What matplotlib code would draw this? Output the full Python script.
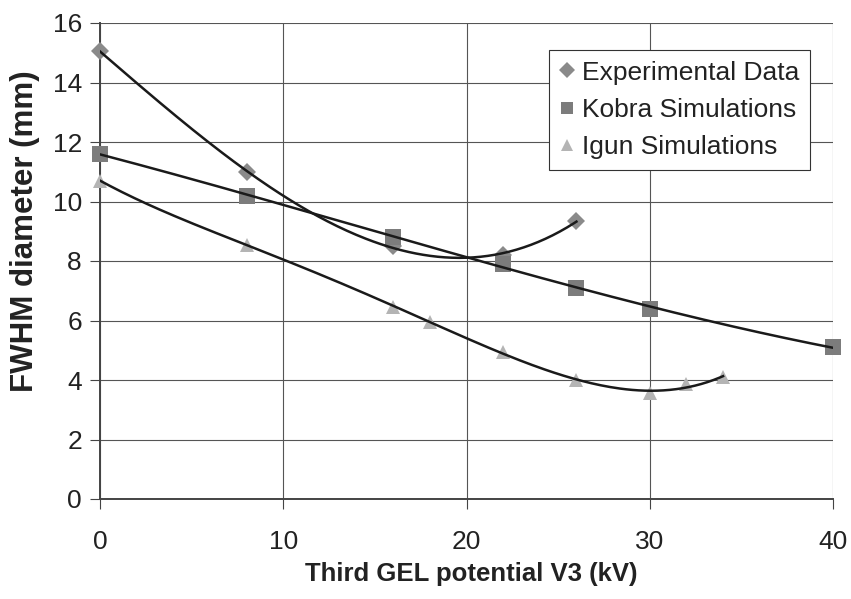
import numpy as np
import matplotlib
matplotlib.use("Agg")
import matplotlib.pyplot as plt

plt.rcParams['font.family'] = ['Liberation Sans', 'DejaVu Sans']

exp_x = [0, 8, 16, 22, 26]
exp_y = [15.05, 11.0, 8.5, 8.2, 9.35]
kob_x = [0, 8, 16, 22, 26, 30, 40]
kob_y = [11.6, 10.2, 8.8, 7.9, 7.1, 6.4, 5.1]
igu_x = [0, 8, 16, 18, 22, 26, 30, 32, 34]
igu_y = [10.7, 8.55, 6.45, 5.95, 4.95, 4.0, 3.55, 3.85, 4.1]

fig = plt.figure(figsize=(8.51, 5.99), dpi=100)
ax = fig.add_axes([100/851, 1-499/599, (833-100)/851, (499-23)/599])

gridc = '#555555'
ax.set_xlim(0, 40)
ax.set_ylim(0, 16)
ax.set_xticks(range(0, 41, 10))
ax.set_yticks(range(0, 17, 2))
ax.grid(True, color=gridc, linewidth=0.8)
for s in ['top', 'right']:
    ax.spines[s].set_visible(False)
ax.spines['left'].set_color('#444444')
ax.spines['bottom'].set_color('#444444')
ax.spines['left'].set_linewidth(1.4)
ax.spines['bottom'].set_linewidth(1.4)
ax.tick_params(direction='out', length=7, width=0.8, color='#444444',
               labelsize=19, labelcolor='#222222', pad=6)
ax.tick_params(axis='x', pad=15)

series = [
    (exp_x, exp_y, 'D', '#8a8a8a', 9, 'Experimental Data', 3),
    (kob_x, kob_y, 's', '#7c7c7c', 11, 'Kobra Simulations', 3),
    (igu_x, igu_y, '^', '#b4b4b4', 10, 'Igun Simulations', 4),
]
for xs, ys, m, c, ms, lab, deg in series:
    ax.plot(xs, ys, linestyle='none', marker=m, color=c, markersize=ms,
            markeredgewidth=0, label=lab, zorder=3, clip_on=False)
for xs, ys, m, c, ms, lab, deg in series:
    coef = np.polyfit(xs, ys, deg)
    xx = np.linspace(min(xs), max(xs), 200)
    ax.plot(xx, np.polyval(coef, xx), color='#1a1a1a', linewidth=1.8, zorder=4)

leg = ax.legend(loc='upper left', bbox_to_anchor=((549-100)/733, 1-(50-23)/476),
                fontsize=19, frameon=True, fancybox=False, handlelength=0.55,
                handletextpad=0.3, borderpad=0.4, labelspacing=0.5,
                markerscale=0.85,
                edgecolor='#333333', framealpha=1, borderaxespad=0)
leg.get_frame().set_linewidth(0.8)
for t in leg.get_texts():
    t.set_color('#222222')

ax.set_xlabel('Third GEL potential V3 (kV)', fontsize=18.5, fontweight='bold',
              color='#222222')
ax.set_ylabel('FWHM diameter (mm)', fontsize=22.5, fontweight='bold',
              color='#222222')
ax.xaxis.set_label_coords((471-100)/733, (499-574)/476)
ax.yaxis.set_label_coords((25-100)/733, (499-231)/476)
ax.xaxis.label.set_va('center')
ax.yaxis.label.set_va('center')

fig.savefig('out.png', dpi=100)
